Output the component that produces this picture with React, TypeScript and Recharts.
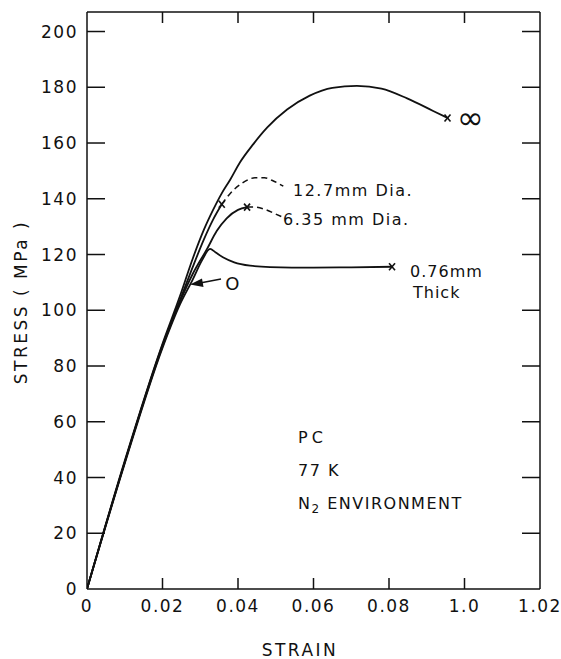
import React from "react"
import { LineChart, Line, XAxis, YAxis } from "recharts"

// strain axis: the original labels the last two ticks "1.0" and "1.02"
const xTicks = [0, 0.02, 0.04, 0.06, 0.08, 0.1, 0.12]
const xTickLabels = ["0", "0.02", "0.04", "0.06", "0.08", "1.0", "1.02"]
const yTicks = [0, 20, 40, 60, 80, 100, 120, 140, 160, 180, 200]

// infinite specimen (solid, breaks at the end)
const infinityCurve = [
  { strain: 0, stress: 0 },
  { strain: 0.01, stress: 46 },
  { strain: 0.02, stress: 88 },
  { strain: 0.0246, stress: 105 },
  { strain: 0.028, stress: 118.5 },
  { strain: 0.031, stress: 129 },
  { strain: 0.0334, stress: 136 },
  { strain: 0.0355, stress: 141.5 },
  { strain: 0.038, stress: 147 },
  { strain: 0.0405, stress: 153 },
  { strain: 0.044, stress: 159.5 },
  { strain: 0.0477, stress: 165.5 },
  { strain: 0.053, stress: 172 },
  { strain: 0.059, stress: 177 },
  { strain: 0.065, stress: 179.8 },
  { strain: 0.0715, stress: 180.5 },
  { strain: 0.078, stress: 179.5 },
  { strain: 0.0848, stress: 176 },
  { strain: 0.0917, stress: 171.5 },
  { strain: 0.0955, stress: 169 },
]

// 12.7 mm dia.
const dia127Solid = [
  { strain: 0, stress: 0 },
  { strain: 0.01, stress: 45.5 },
  { strain: 0.02, stress: 87.5 },
  { strain: 0.0246, stress: 103.5 },
  { strain: 0.028, stress: 115.5 },
  { strain: 0.031, stress: 125.5 },
  { strain: 0.0334, stress: 132.5 },
  { strain: 0.0357, stress: 138 },
]
const dia127Dashed = [
  { strain: 0.0357, stress: 138 },
  { strain: 0.038, stress: 142 },
  { strain: 0.041, stress: 145.5 },
  { strain: 0.0445, stress: 147.5 },
  { strain: 0.047, stress: 147.5 },
  { strain: 0.0495, stress: 146.3 },
  { strain: 0.052, stress: 144.5 },
]

// 6.35 mm dia.
const dia635Solid = [
  { strain: 0, stress: 0 },
  { strain: 0.01, stress: 45.5 },
  { strain: 0.02, stress: 87 },
  { strain: 0.0246, stress: 103 },
  { strain: 0.028, stress: 113 },
  { strain: 0.0318, stress: 122 },
  { strain: 0.0344, stress: 128.5 },
  { strain: 0.037, stress: 133 },
  { strain: 0.04, stress: 136 },
  { strain: 0.0424, stress: 137 },
]
const dia635Dashed = [
  { strain: 0.0424, stress: 137 },
  { strain: 0.0445, stress: 137 },
  { strain: 0.0475, stress: 136 },
  { strain: 0.05, stress: 134.5 },
  { strain: 0.0525, stress: 133 },
]

// 0.76 mm thick
const thickCurve = [
  { strain: 0, stress: 0 },
  { strain: 0.01, stress: 45 },
  { strain: 0.02, stress: 86.5 },
  { strain: 0.0246, stress: 102 },
  { strain: 0.028, stress: 111 },
  { strain: 0.0305, stress: 118 },
  { strain: 0.0326, stress: 122 },
  { strain: 0.034, stress: 120.8 },
  { strain: 0.036, stress: 119 },
  { strain: 0.039, stress: 117.2 },
  { strain: 0.0432, stress: 116 },
  { strain: 0.0485, stress: 115.5 },
  { strain: 0.06, stress: 115.3 },
  { strain: 0.07, stress: 115.4 },
  { strain: 0.0808, stress: 115.6 },
]

const INK = "#111"
const FONT = "'DejaVu Sans', sans-serif"

const BottomTick = (p: any) => {
  const last = p.index === xTicks.length - 1
  return (
    <g>
      {p.index > 0 && !last && <line x1={p.x} y1={p.y} x2={p.x} y2={p.y - 11} stroke={INK} strokeWidth={1.5} />}
      <text x={p.x} y={p.y + 17} textAnchor="middle" dominantBaseline="central" fontSize={17} letterSpacing={1.5} fill={INK} fontFamily={FONT}>
        {xTickLabels[p.index]}
      </text>
    </g>
  )
}

const TopTick = (p: any) =>
  p.index > 0 && p.index < xTicks.length - 1 ? (
    <line x1={p.x} y1={p.y} x2={p.x} y2={p.y + 11} stroke={INK} strokeWidth={1.5} />
  ) : (
    <g />
  )

const LeftTick = (p: any) => (
  <g>
    {p.index > 0 && <line x1={p.x} y1={p.y} x2={p.x + 18} y2={p.y} stroke={INK} strokeWidth={1.5} />}
    <text x={p.x - 9} y={p.y} textAnchor="end" dominantBaseline="central" fontSize={17} letterSpacing={1.5} fill={INK} fontFamily={FONT}>
      {p.payload.value}
    </text>
  </g>
)

const RightTick = (p: any) =>
  p.index > 0 ? <line x1={p.x} y1={p.y} x2={p.x - 18} y2={p.y} stroke={INK} strokeWidth={1.5} /> : <g />

// small "x" at the fracture point (last point of the series)
const fractureMark = (last: number) => (p: any) =>
  p.index === last ? (
    <g key={p.key}>
      <line x1={p.cx - 3} y1={p.cy - 3.5} x2={p.cx + 3} y2={p.cy + 3.5} stroke={INK} strokeWidth={1.6} />
      <line x1={p.cx - 3} y1={p.cy + 3.5} x2={p.cx + 3} y2={p.cy - 3.5} stroke={INK} strokeWidth={1.6} />
    </g>
  ) : (
    <g key={p.key} />
  )

const lineProps = {
  type: "monotone" as const,
  dataKey: "stress",
  stroke: INK,
  strokeWidth: 1.8,
  xAxisId: "b",
  yAxisId: "l",
  isAnimationActive: false,
  activeDot: false,
}

export default function App() {
  const txt = { fontFamily: FONT, fill: INK, letterSpacing: 1.5 }
  return (
    <div style={{ position: "absolute", left: 0, top: 0, width: 561, height: 659, background: "#fff" }}>
      <LineChart width={561} height={659} margin={{ top: 10, right: 19, bottom: 40, left: 27 }}>
        <XAxis xAxisId="b" type="number" dataKey="strain" domain={[0, 0.12]} ticks={xTicks} interval={0}
          height={30} tickSize={0} tickMargin={0} tickLine={false} tick={BottomTick}
          axisLine={{ stroke: INK, strokeWidth: 1.5 }} allowDataOverflow />
        <XAxis xAxisId="t" orientation="top" type="number" dataKey="strain" domain={[0, 0.12]} ticks={xTicks} interval={0}
          height={2} tickSize={0} tickMargin={0} tickLine={false} tick={TopTick}
          axisLine={{ stroke: INK, strokeWidth: 1.5 }} allowDataOverflow />
        <YAxis yAxisId="l" type="number" domain={[0, 207]} ticks={yTicks} interval={0}
          width={60} tickSize={0} tickMargin={0} tickLine={false} tick={LeftTick}
          axisLine={{ stroke: INK, strokeWidth: 1.5 }} allowDataOverflow />
        <YAxis yAxisId="r" orientation="right" type="number" domain={[0, 207]} ticks={yTicks} interval={0}
          width={2} tickSize={0} tickMargin={0} tickLine={false} tick={RightTick}
          axisLine={{ stroke: INK, strokeWidth: 1.5 }} allowDataOverflow />

        <Line {...lineProps} data={infinityCurve} dot={fractureMark(infinityCurve.length - 1)} />
        <Line {...lineProps} data={dia127Solid} dot={fractureMark(dia127Solid.length - 1)} />
        <Line {...lineProps} data={dia127Dashed} strokeWidth={1.5} strokeDasharray="6 4" dot={false} />
        <Line {...lineProps} data={dia635Solid} dot={fractureMark(dia635Solid.length - 1)} />
        <Line {...lineProps} data={dia635Dashed} strokeWidth={1.5} strokeDasharray="6 4" dot={false} />
        <Line {...lineProps} data={thickCurve} dot={fractureMark(thickCurve.length - 1)} />
      </LineChart>

      {/* annotations */}
      <svg width={561} height={659} style={{ position: "absolute", left: 0, top: 0, pointerEvents: "none" }}>
        <text {...txt} x={21} y={302} fontSize={17} letterSpacing={2.5} textAnchor="middle" dominantBaseline="central"
          transform="rotate(-90 21 302)">STRESS  ( MPa )</text>
        <text {...txt} x={300} y={650} fontSize={17} letterSpacing={2.5} textAnchor="middle" dominantBaseline="central">STRAIN</text>

        <text {...txt} x={457} y={118} fontSize={32} letterSpacing={0} dominantBaseline="central">∞</text>
        <text {...txt} x={293} y={190} fontSize={16} dominantBaseline="central">12.7mm  Dia.</text>
        <text {...txt} x={283} y={219} fontSize={16} dominantBaseline="central">6.35 mm  Dia.</text>
        <text {...txt} x={410} y={271} fontSize={16} letterSpacing={1} dominantBaseline="central">0.76mm</text>
        <text {...txt} x={413} y={292} fontSize={16} letterSpacing={1} dominantBaseline="central">Thick</text>

        <text {...txt} x={233} y={283} fontSize={18} textAnchor="middle" dominantBaseline="central">O</text>
        <line x1={221} y1={279} x2={200} y2={283} stroke={INK} strokeWidth={1.6} />
        <polygon points="190,284.5 202,278.5 203.5,287" fill={INK} />

        <text {...txt} x={298} y={437} fontSize={16} letterSpacing={4} dominantBaseline="central">PC</text>
        <text {...txt} x={298} y={470} fontSize={16} dominantBaseline="central">77 K</text>
        <text {...txt} x={298} y={503} fontSize={16} dominantBaseline="central">
          N<tspan fontSize={12} dy={6}>2</tspan><tspan dy={-6}> ENVIRONMENT</tspan>
        </text>
      </svg>
    </div>
  )
}
